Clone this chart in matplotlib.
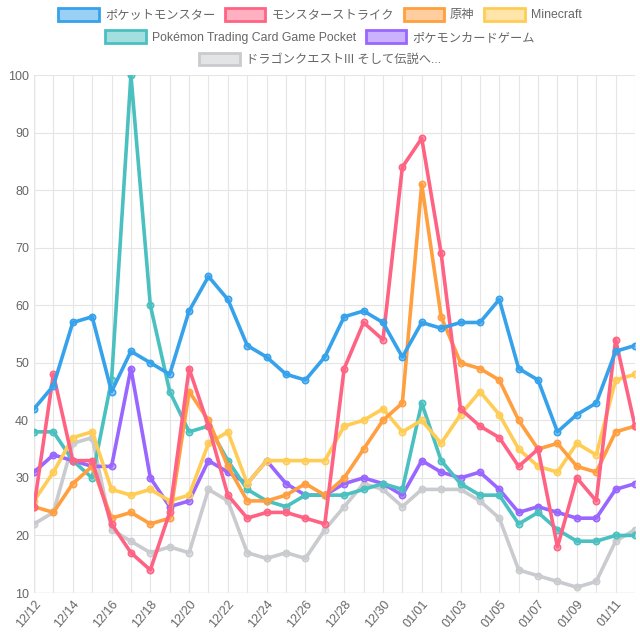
import matplotlib
matplotlib.use("Agg")
import matplotlib.pyplot as plt
from matplotlib.patches import Patch
from matplotlib.colors import to_rgba

plt.rcParams['font.family'] = ['Liberation Sans', 'Noto Sans CJK JP', 'DejaVu Sans']

dates = ["12/12", "12/13", "12/14", "12/15", "12/16", "12/17", "12/18", "12/19",
         "12/20", "12/21", "12/22", "12/23", "12/24", "12/25", "12/26", "12/27",
         "12/28", "12/29", "12/30", "12/31", "01/01", "01/02", "01/03", "01/04",
         "01/05", "01/06", "01/07", "01/08", "01/09", "01/10", "01/11", "01/12"]

names = ["ポケットモンスター", "モンスターストライク", "原神", "Minecraft",
         "Pokémon Trading Card Game Pocket", "ポケモンカードゲーム",
         "ドラゴンクエストIII そして伝説へ..."]
colors = ["#36A2EB", "#FF6384", "#FF9F40", "#FFCD56", "#4BC0C0", "#9966FF", "#C9CBCF"]

pokemon = [42, 46, 57, 58, 45, 52, 50, 48, 59, 65, 61, 53, 51, 48, 47, 51,
           58, 59, 57, 51, 57, 56, 57, 57, 61, 49, 47, 38, 41, 43, 52, 53]
monst = [25, 48, 33, 33, 22, 17, 14, 24, 49, 39, 27, 23, 24, 24, 23, 22,
         49, 57, 54, 84, 89, 69, 42, 39, 37, 32, 35, 18, 30, 26, 54, 39]
genshin = [25, 24, 29, 32, 23, 24, 22, 23, 45, 40, 32, 26, 26, 27, 29, 27,
           30, 35, 40, 43, 81, 58, 50, 49, 47, 40, 35, 36, 32, 31, 38, 39]
minecraft = [26, 31, 37, 38, 28, 27, 28, 26, 27, 36, 38, 29, 33, 33, 33, 33,
             39, 40, 42, 38, 40, 36, 41, 45, 41, 35, 32, 31, 36, 34, 47, 48]
tcg_pocket = [38, 38, 33, 30, 47, 100, 60, 45, 38, 39, 33, 28, 26, 25, 27, 27,
              27, 28, 29, 28, 43, 33, 29, 27, 27, 22, 24, 21, 19, 19, 20, 20]
pokeca = [31, 34, 33, 32, 32, 49, 30, 25, 26, 33, 31, 29, 33, 29, 27, 27,
          29, 30, 29, 27, 33, 31, 30, 31, 28, 24, 25, 24, 23, 23, 28, 29]
dq3 = [22, 24, 36, 37, 21, 19, 17, 18, 17, 28, 26, 17, 16, 17, 16, 21,
       25, 29, 28, 25, 28, 28, 28, 26, 23, 14, 13, 12, 11, 12, 19, 21]

series = [pokemon, monst, genshin, minecraft, tcg_pocket, pokeca, dq3]

fig = plt.figure(figsize=(6.4, 6.4), dpi=100)
ax = fig.add_axes([34 / 640, 47 / 640, 601 / 640, 518 / 640])

x = list(range(len(dates)))
# draw in reverse so the first dataset sits on top, like Chart.js
for vals, col in reversed(list(zip(series, colors))):
    ax.plot(x, vals, color=col, lw=2.6, marker='o', ms=4.5,
            markerfacecolor=to_rgba(col, 0.5), markeredgecolor=col, mew=1.2,
            solid_joinstyle='round', zorder=3)

ax.set_xlim(0, len(dates) - 1)
ax.set_ylim(10, 100)
ax.set_yticks(range(10, 101, 10))
ax.set_xticks(x[::2])
ax.set_xticklabels(dates[::2], rotation=50, ha='right', rotation_mode='anchor')
ax.set_xticks(x, minor=True)
ax.tick_params(axis='both', colors='#666666', labelsize=9, length=0)
ax.tick_params(axis='x', which='minor', length=0)
ax.grid(True, which='major', color='#e5e5e5', lw=0.8)
ax.grid(True, which='minor', axis='x', color='#e5e5e5', lw=0.8)
for s in ax.spines.values():
    s.set_visible(False)
ax.axhline(10, color='#cccccc', lw=0.9, zorder=1)
ax.axvline(0, color='#cccccc', lw=0.9, zorder=1)

handles = [Patch(facecolor=to_rgba(c, 0.5), edgecolor=c, lw=2) for c in colors]
rows = [(0, 4, 0.977), (4, 6, 0.942), (6, 7, 0.907)]
for a, b, yy in rows:
    leg = fig.legend(handles[a:b], names[a:b], loc='center', ncol=b - a,
                     bbox_to_anchor=(0.5, yy), frameon=False, fontsize=8.8,
                     handlelength=3.3, handleheight=1.2, handletextpad=0.5,
                     columnspacing=0.8, labelcolor='#666666')

fig.savefig("out.png", dpi=100)
